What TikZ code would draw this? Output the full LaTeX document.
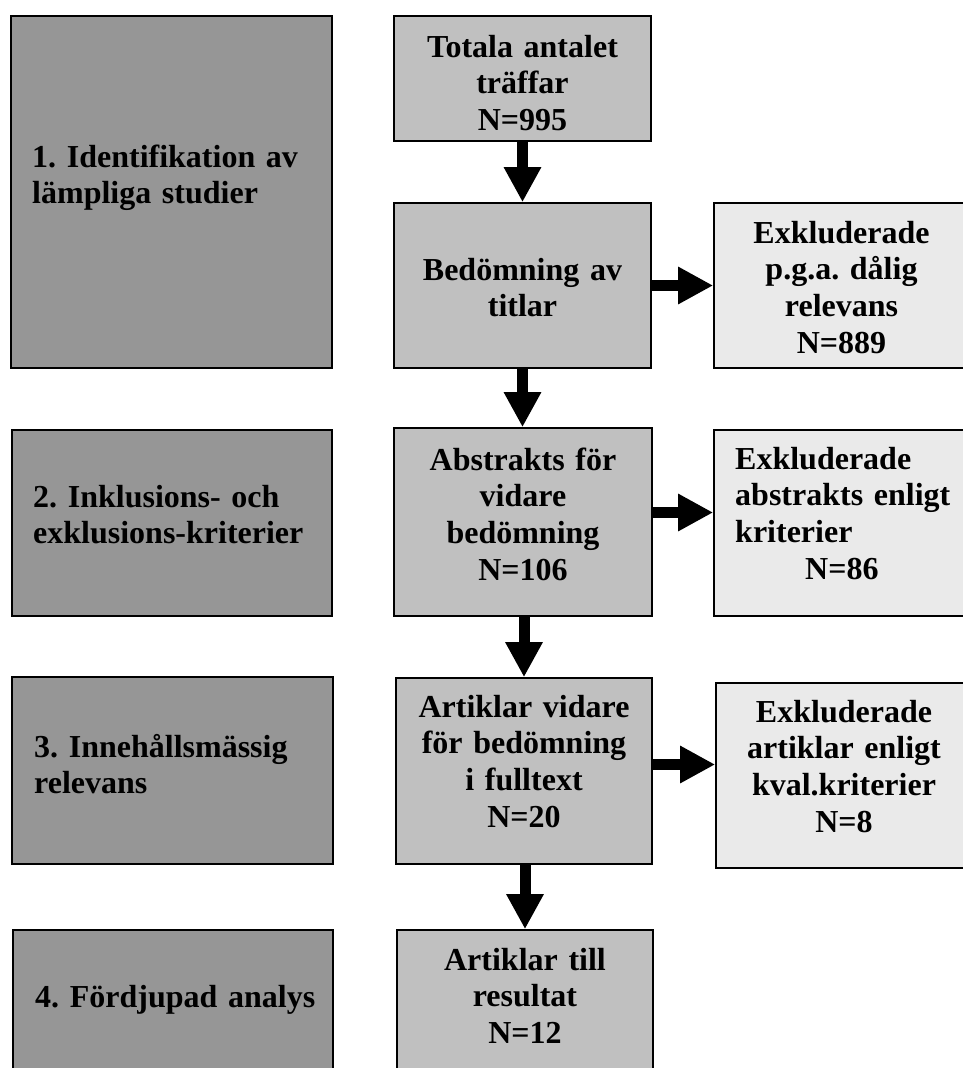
\documentclass[tikz,border=0pt]{standalone}
\usepackage{fontspec}
\setmainfont{Liberation Serif}
\usetikzlibrary{arrows.meta}
\frenchspacing
\definecolor{darkfill}{HTML}{969696}
\definecolor{midfill}{HTML}{C0C0C0}
\definecolor{lightfill}{HTML}{EAEAEA}
\tikzset{
  boxbase/.style={draw=black, line width=1.6pt, rectangle, inner sep=0pt},
  stagebox/.style={boxbase, fill=darkfill},
  flowbox/.style={boxbase, fill=midfill},
  exclbox/.style={boxbase, fill=lightfill},
  txt/.style={inner sep=0pt, text width=290pt, font=\fontsize{32}{36.8}\selectfont\bfseries\frenchspacing},
  ctxt/.style={txt, align=center, anchor=base},
  ltxt/.style={txt, align=left, anchor=base west},
  bigarrow/.style={line width=11pt, -{Triangle[length=35pt,width=35pt]}}
}
\begin{document}
\begin{tikzpicture}[x=1pt,y=-1pt]
\useasboundingbox (0,0) rectangle (963,1068);
\clip (0,0) rectangle (963,1068);
% stage boxes (left column)
\node[stagebox, minimum width=321pt, minimum height=352pt] (s1) at (171.5,192) {};
\node[stagebox, minimum width=320pt, minimum height=186pt] (s2) at (172,523) {};
\node[stagebox, minimum width=321pt, minimum height=187pt] (s3) at (172.5,770.5) {};
\node[stagebox, minimum width=320pt, minimum height=180pt] (s4) at (173,1020) {};
% flow boxes (centre column)
\node[flowbox, minimum width=257pt, minimum height=125pt] (tot) at (522.5,78.5) {};
\node[flowbox, minimum width=257pt, minimum height=165pt] (bed) at (522.5,285.5) {};
\node[flowbox, minimum width=258pt, minimum height=188pt] (abs) at (523,522) {};
\node[flowbox, minimum width=256pt, minimum height=186pt] (art) at (524,771) {};
\node[flowbox, minimum width=256pt, minimum height=180pt] (res) at (525,1020) {};
% exclusion boxes (right column)
\node[exclbox, minimum width=255pt, minimum height=165pt] (ex1) at (841.5,285.5) {};
\node[exclbox, minimum width=255pt, minimum height=186pt] (ex2) at (841.5,523) {};
\node[exclbox, minimum width=256pt, minimum height=185pt] (ex3) at (844,775.5) {};
% texts
\node[ltxt] (s1t) at (32,167) {1. Identifikation av\\lämpliga studier};
\node[ltxt] (s2t) at (33,507) {2. Inklusions- och\\exklusions-kriterier};
\node[ltxt] (s3t) at (34,757) {3. Innehållsmässig\\relevans};
\node[ltxt] (s4t) at (35,1007) {4. Fördjupad analys};
\node[ctxt] (tott) at (522.5,57) {Totala antalet\\träffar\\N=995};
\node[ctxt] (bedt) at (522.5,280) {Bedömning av\\titlar};
\node[ctxt] (abst) at (523,470) {Abstrakts för\\vidare\\bedömning\\N=106};
\node[ctxt] (artt) at (524,717) {Artiklar vidare\\för bedömning\\i fulltext\\N=20};
\node[ctxt] (rest) at (525,970) {Artiklar till\\resultat\\N=12};
\node[ctxt] (ex1t) at (841.5,243) {Exkluderade\\p.g.a. dålig\\relevans\\N=889};
\node[ltxt] (ex2t) at (735,469) {Exkluderade\\abstrakts enligt\\kriterier\\\hspace*{70pt}N=86};
\node[ctxt] (ex3t) at (844,722) {Exkluderade\\artiklar enligt\\kval.kriterier\\N=8};
% arrows
\draw[bigarrow] (tot.south) -- (bed.north);
\draw[bigarrow] (bed.east) coordinate (h1) -- (h1 -| ex1.west);
\draw[bigarrow] (bed.south) -- (bed.south |- abs.north);
\draw[bigarrow] ([yshift=9.5pt]abs.east) coordinate (h2) -- (h2 -| ex2.west);
\draw[bigarrow] (art.north |- abs.south) -- (art.north);
\draw[bigarrow] ([yshift=6.5pt]art.east) coordinate (h3) -- (h3 -| ex3.west);
\draw[bigarrow] (res.north |- art.south) -- (res.north);
\end{tikzpicture}
\end{document}
